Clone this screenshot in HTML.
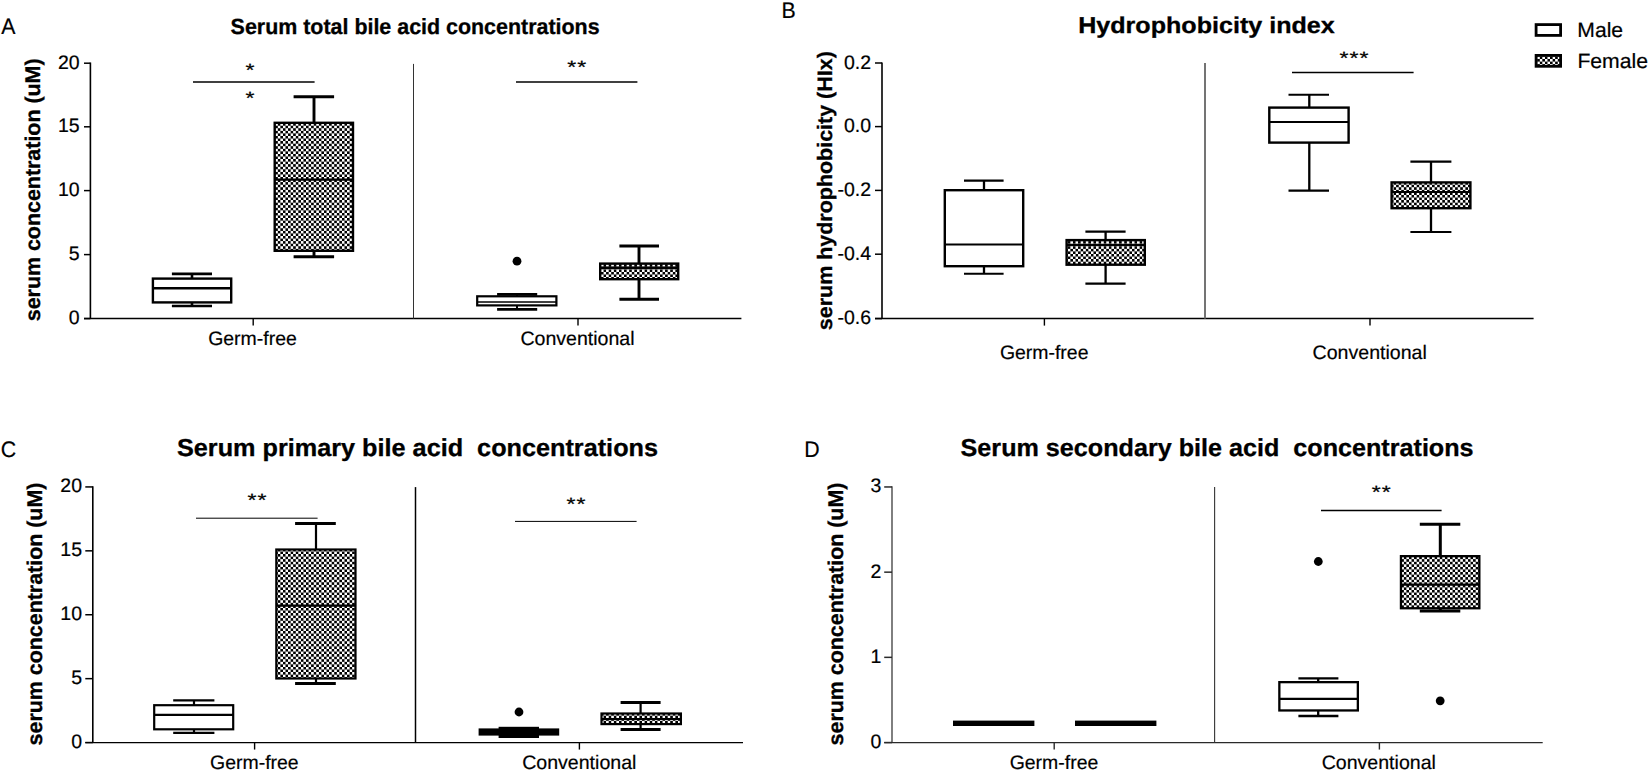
<!DOCTYPE html>
<html lang="en">
<head>
<meta charset="utf-8">
<title>Serum bile acid concentrations</title>
<style>
html,body{margin:0;padding:0;background:#fff;}
body{width:1650px;height:772px;overflow:hidden;}
svg{display:block;font-family:'Liberation Sans', sans-serif;fill:#000;text-rendering:geometricPrecision;}
</style>
</head>
<body>
<svg width="1650" height="772" viewBox="0 0 1650 772">
<defs>
<pattern id="chk" x="275.235" y="551.500" width="5.13" height="5.13" patternUnits="userSpaceOnUse">
<rect x="0" y="0" width="5.13" height="5.13" fill="#fff"/>
<rect x="0" y="0" width="2.565" height="2.565" fill="#000"/>
<rect x="2.565" y="2.565" width="2.565" height="2.565" fill="#000"/>
</pattern>
</defs>
<rect width="1650" height="772" fill="#fff"/>
<text transform="translate(1.3 33.7) scale(0.95 1)" x="0" y="0" font-size="22.4" stroke="#000" stroke-width="0.2">A</text>
<text x="230.6" y="34" font-size="22.0" font-weight="bold" textLength="369" lengthAdjust="spacingAndGlyphs" stroke="#000" stroke-width="0.3">Serum total bile acid concentrations</text>
<path d="M90.4 62.6L90.4 318.6" stroke="#000" stroke-width="1.6" fill="none"/>
<path d="M84 318.6L741.4 318.6" stroke="#000" stroke-width="1.5" fill="none"/>
<path d="M84 63.2L90.4 63.2" stroke="#000" stroke-width="1.5" fill="none"/>
<text x="79.6" y="68.7" font-size="19.5" text-anchor="end" stroke="#000" stroke-width="0.2">20</text>
<path d="M84 126.8L90.4 126.8" stroke="#000" stroke-width="1.5" fill="none"/>
<text x="79.6" y="132.3" font-size="19.5" text-anchor="end" stroke="#000" stroke-width="0.2">15</text>
<path d="M84 190.6L90.4 190.6" stroke="#000" stroke-width="1.5" fill="none"/>
<text x="79.6" y="196.1" font-size="19.5" text-anchor="end" stroke="#000" stroke-width="0.2">10</text>
<path d="M84 254.6L90.4 254.6" stroke="#000" stroke-width="1.5" fill="none"/>
<text x="79.6" y="260.1" font-size="19.5" text-anchor="end" stroke="#000" stroke-width="0.2">5</text>
<path d="M84 318.6L90.4 318.6" stroke="#000" stroke-width="1.5" fill="none"/>
<text x="79.6" y="324.1" font-size="19.5" text-anchor="end" stroke="#000" stroke-width="0.2">0</text>
<path d="M253.2 318.6L253.2 325.6" stroke="#000" stroke-width="1.4" fill="none"/>
<path d="M578 318.6L578 325.6" stroke="#000" stroke-width="1.4" fill="none"/>
<text x="40.4" y="321.2" font-size="21.3" font-weight="bold" textLength="262.8" lengthAdjust="spacingAndGlyphs" transform="rotate(-90 40.4 321.2)" stroke="#000" stroke-width="0.3">serum concentration (uM)</text>
<path d="M413.5 63.9L413.5 318.6" stroke="#333" stroke-width="1.0" fill="none"/>
<path d="M193 82L314.6 82" stroke="#000" stroke-width="1.5" fill="none"/>
<text transform="translate(250.4 75.86) scale(1 0.77)" x="0" y="0" font-size="23" text-anchor="middle" letter-spacing="1.05" stroke="#000" stroke-width="0.3">*</text>
<text transform="translate(250.4 104.2) scale(1 0.77)" x="0" y="0" font-size="23" text-anchor="middle" letter-spacing="1.05" stroke="#000" stroke-width="0.3">*</text>
<path d="M516 82L637.4 82" stroke="#000" stroke-width="1.5" fill="none"/>
<text transform="translate(577.3 73.16) scale(1 0.77)" x="0" y="0" font-size="23" text-anchor="middle" letter-spacing="1.05" stroke="#000" stroke-width="0.3">**</text>
<path d="M171.9 273.8H212M171.9 306H212" stroke="#000" stroke-width="2.7" fill="none"/>
<path d="M192 273.8V278.60M192 302.40V306" stroke="#000" stroke-width="2.6" fill="none"/>
<rect x="152.90" y="278.60" width="78.30" height="23.80" fill="#fff" stroke="#000" stroke-width="2.4"/>
<path d="M152.90 288.2H231.20" stroke="#000" stroke-width="2.4" fill="none"/>
<path d="M293.6 96.8H334.1M293.6 256.8H334.1" stroke="#000" stroke-width="2.9" fill="none"/>
<path d="M314.0 96.8V122.80M314.0 250.80V256.8" stroke="#000" stroke-width="2.9" fill="none"/>
<rect x="274.70" y="122.80" width="78.30" height="128.00" fill="url(#chk)" stroke="#000" stroke-width="2.4"/>
<path d="M274.70 179.6H353.00" stroke="#000" stroke-width="2.4" fill="none"/>
<path d="M497.1 294.4H537.2M497.1 309.3H537.2" stroke="#000" stroke-width="2.8" fill="none"/>
<path d="M517 294.4V296.30M517 305.40V309.3" stroke="#000" stroke-width="2.0" fill="none"/>
<rect x="477.20" y="296.30" width="79.20" height="9.10" fill="#fff" stroke="#000" stroke-width="2.2"/>
<path d="M477.20 302.05H556.40" stroke="#000" stroke-width="1.6" fill="none"/>
<circle cx="517" cy="261.2" r="4.4" fill="#000"/>
<path d="M619.4 246H659M619.4 299.2H659" stroke="#000" stroke-width="2.9" fill="none"/>
<path d="M639 246V263.60M639 279.20V299.2" stroke="#000" stroke-width="2.9" fill="none"/>
<rect x="600.20" y="263.60" width="78.00" height="15.60" fill="url(#chk)" stroke="#000" stroke-width="2.4"/>
<path d="M600.20 267.8H678.20" stroke="#000" stroke-width="2.4" fill="none"/>
<text x="252.5" y="345.2" font-size="19.5" text-anchor="middle" textLength="88.6" lengthAdjust="spacingAndGlyphs" stroke="#000" stroke-width="0.2">Germ-free</text>
<text x="577.5" y="345.2" font-size="19.5" text-anchor="middle" textLength="114.2" lengthAdjust="spacingAndGlyphs" stroke="#000" stroke-width="0.2">Conventional</text>
<text transform="translate(781.4 17.5) scale(0.95 1)" x="0" y="0" font-size="22.4" stroke="#000" stroke-width="0.2">B</text>
<text x="1078.2" y="32.5" font-size="22.9" font-weight="bold" textLength="256.6" lengthAdjust="spacingAndGlyphs" stroke="#000" stroke-width="0.3">Hydrophobicity index</text>
<path d="M882 62.4L882 318.6" stroke="#000" stroke-width="1.6" fill="none"/>
<path d="M875 318.6L1533.6 318.6" stroke="#000" stroke-width="1.5" fill="none"/>
<path d="M875 63L882 63" stroke="#000" stroke-width="1.5" fill="none"/>
<text x="871" y="68.5" font-size="19.5" text-anchor="end" stroke="#000" stroke-width="0.2">0.2</text>
<path d="M875 126.6L882 126.6" stroke="#000" stroke-width="1.5" fill="none"/>
<text x="871" y="132.1" font-size="19.5" text-anchor="end" stroke="#000" stroke-width="0.2">0.0</text>
<path d="M875 190.4L882 190.4" stroke="#000" stroke-width="1.5" fill="none"/>
<text x="871" y="195.9" font-size="19.5" text-anchor="end" stroke="#000" stroke-width="0.2">-0.2</text>
<path d="M875 254.2L882 254.2" stroke="#000" stroke-width="1.5" fill="none"/>
<text x="871" y="259.7" font-size="19.5" text-anchor="end" stroke="#000" stroke-width="0.2">-0.4</text>
<path d="M875 318.6L882 318.6" stroke="#000" stroke-width="1.5" fill="none"/>
<text x="871" y="324.1" font-size="19.5" text-anchor="end" stroke="#000" stroke-width="0.2">-0.6</text>
<path d="M1044.4 318.6L1044.4 325.6" stroke="#000" stroke-width="1.4" fill="none"/>
<path d="M1370 318.6L1370 325.6" stroke="#000" stroke-width="1.4" fill="none"/>
<text x="832" y="330.2" font-size="20.9" font-weight="bold" textLength="279" lengthAdjust="spacingAndGlyphs" transform="rotate(-90 832 330.2)" stroke="#000" stroke-width="0.3">serum hydrophobicity (HIx)</text>
<path d="M1205 63L1205 318.6" stroke="#747474" stroke-width="2.0" fill="none"/>
<path d="M1292 72.4L1413.6 72.4" stroke="#000" stroke-width="1.5" fill="none"/>
<text transform="translate(1354.5 63.9) scale(1 0.77)" x="0" y="0" font-size="23" text-anchor="middle" letter-spacing="1.05" stroke="#000" stroke-width="0.3">***</text>
<path d="M964 180.6H1003.6M964 273.8H1003.6" stroke="#000" stroke-width="2.1" fill="none"/>
<path d="M984 180.6V190.20M984 266.20V273.8" stroke="#000" stroke-width="2.3" fill="none"/>
<rect x="944.80" y="190.20" width="78.40" height="76.00" fill="#fff" stroke="#000" stroke-width="2.4"/>
<path d="M944.80 244.6H1023.20" stroke="#000" stroke-width="2.0" fill="none"/>
<path d="M1085.4 231.6H1125.6M1085.4 283.6H1125.6" stroke="#000" stroke-width="2.1" fill="none"/>
<path d="M1105.6 231.6V240.10M1105.6 264.70V283.6" stroke="#000" stroke-width="2.3" fill="none"/>
<rect x="1066.60" y="240.10" width="78.20" height="24.60" fill="url(#chk)" stroke="#000" stroke-width="2.4"/>
<path d="M1066.60 245.1H1144.80" stroke="#000" stroke-width="2.0" fill="none"/>
<path d="M1288.5 94.7H1329M1288.5 190.6H1329" stroke="#000" stroke-width="2.1" fill="none"/>
<path d="M1309.3 94.7V107.60M1309.3 142.60V190.6" stroke="#000" stroke-width="2.3" fill="none"/>
<rect x="1269.30" y="107.60" width="79.30" height="35.00" fill="#fff" stroke="#000" stroke-width="2.4"/>
<path d="M1269.30 122.0H1348.60" stroke="#000" stroke-width="2.0" fill="none"/>
<path d="M1410.4 161.6H1451.4M1410.4 232H1451.4" stroke="#000" stroke-width="2.1" fill="none"/>
<path d="M1431 161.6V182.40M1431 208.20V232" stroke="#000" stroke-width="2.3" fill="none"/>
<rect x="1391.60" y="182.40" width="78.80" height="25.80" fill="url(#chk)" stroke="#000" stroke-width="2.4"/>
<path d="M1391.60 192H1470.40" stroke="#000" stroke-width="2.0" fill="none"/>
<text x="1044.2" y="359.2" font-size="19.5" text-anchor="middle" textLength="88.6" lengthAdjust="spacingAndGlyphs" stroke="#000" stroke-width="0.2">Germ-free</text>
<text x="1369.7" y="359.2" font-size="19.5" text-anchor="middle" textLength="114.2" lengthAdjust="spacingAndGlyphs" stroke="#000" stroke-width="0.2">Conventional</text>
<rect x="1536.1000000000001" y="24.599999999999998" width="24.5" height="10.8" fill="#fff" stroke="#000" stroke-width="2.8"/>
<rect x="1536.1000000000001" y="55.4" width="24.5" height="10.899999999999999" fill="url(#chk)" stroke="#000" stroke-width="2.8"/>
<text x="1577.3" y="36.8" font-size="20.6" textLength="45.8" lengthAdjust="spacingAndGlyphs" stroke="#000" stroke-width="0.2">Male</text>
<text x="1577.4" y="67.5" font-size="20.6" textLength="70.6" lengthAdjust="spacingAndGlyphs" stroke="#000" stroke-width="0.2">Female</text>
<text transform="translate(0.7 456.95) scale(0.95 1)" x="0" y="0" font-size="22.4" stroke="#000" stroke-width="0.2">C</text>
<text x="177" y="456" font-size="24.5" font-weight="bold" textLength="481" lengthAdjust="spacingAndGlyphs" stroke="#000" stroke-width="0.3">Serum primary bile acid  concentrations</text>
<path d="M92.8 486.29999999999995L92.8 742.55" stroke="#000" stroke-width="1.6" fill="none"/>
<path d="M85.3 742.55L743 742.55" stroke="#000" stroke-width="1.2" fill="none"/>
<path d="M85.3 486.93L92.8 486.93" stroke="#000" stroke-width="1.5" fill="none"/>
<text x="82" y="492.43" font-size="19.5" text-anchor="end" stroke="#000" stroke-width="0.2">20</text>
<path d="M85.3 550.84L92.8 550.84" stroke="#000" stroke-width="1.5" fill="none"/>
<text x="82" y="556.34" font-size="19.5" text-anchor="end" stroke="#000" stroke-width="0.2">15</text>
<path d="M85.3 614.74L92.8 614.74" stroke="#000" stroke-width="1.5" fill="none"/>
<text x="82" y="620.24" font-size="19.5" text-anchor="end" stroke="#000" stroke-width="0.2">10</text>
<path d="M85.3 678.65L92.8 678.65" stroke="#000" stroke-width="1.5" fill="none"/>
<text x="82" y="684.15" font-size="19.5" text-anchor="end" stroke="#000" stroke-width="0.2">5</text>
<path d="M85.3 742.55L92.8 742.55" stroke="#000" stroke-width="1.5" fill="none"/>
<text x="82" y="748.05" font-size="19.5" text-anchor="end" stroke="#000" stroke-width="0.2">0</text>
<path d="M254.6 742.55L254.6 749.55" stroke="#000" stroke-width="1.4" fill="none"/>
<path d="M579.4 742.55L579.4 749.55" stroke="#000" stroke-width="1.4" fill="none"/>
<text x="42.4" y="745.4" font-size="21.3" font-weight="bold" textLength="262.8" lengthAdjust="spacingAndGlyphs" transform="rotate(-90 42.4 745.4)" stroke="#000" stroke-width="0.3">serum concentration (uM)</text>
<path d="M415.5 487.1L415.5 742.5" stroke="#000" stroke-width="1.5" fill="none"/>
<path d="M196 518.2L317.6 518.2" stroke="#000" stroke-width="1.0" fill="none"/>
<text transform="translate(257.4 505.95) scale(1 0.77)" x="0" y="0" font-size="23" text-anchor="middle" letter-spacing="1.05" stroke="#000" stroke-width="0.3">**</text>
<path d="M515 521.4L636.6 521.4" stroke="#000" stroke-width="1.0" fill="none"/>
<text transform="translate(576.5 509.95) scale(1 0.77)" x="0" y="0" font-size="23" text-anchor="middle" letter-spacing="1.05" stroke="#000" stroke-width="0.3">**</text>
<path d="M173.2 700.4H214.4M173.2 732.8H214.4" stroke="#000" stroke-width="2.3" fill="none"/>
<path d="M194 700.4V705.20M194 729.30V732.8" stroke="#000" stroke-width="2.2" fill="none"/>
<rect x="154.20" y="705.20" width="79.00" height="24.10" fill="#fff" stroke="#000" stroke-width="2.2"/>
<path d="M154.20 714.9H233.20" stroke="#000" stroke-width="2.1" fill="none"/>
<path d="M295.1 523.4H335.8M295.1 683.4H335.8" stroke="#000" stroke-width="3.0" fill="none"/>
<path d="M316 523.4V549.50M316 678.50V683.4" stroke="#000" stroke-width="2.2" fill="none"/>
<rect x="276.30" y="549.50" width="79.20" height="129.00" fill="url(#chk)" stroke="#000" stroke-width="2.2"/>
<path d="M276.30 605.6H355.50" stroke="#000" stroke-width="2.1" fill="none"/>
<rect x="478.6" y="728.4" width="80.6" height="7.2" fill="#000"/>
<rect x="498.6" y="726.8" width="40.4" height="11.2" fill="#000"/>
<circle cx="519" cy="712" r="4.4" fill="#000"/>
<path d="M620.6 702.4H660.6M620.6 729.6H660.6" stroke="#000" stroke-width="3.0" fill="none"/>
<path d="M640.6 702.4V713.50M640.6 724.10V729.6" stroke="#000" stroke-width="2.2" fill="none"/>
<rect x="601.50" y="713.50" width="79.40" height="10.60" fill="url(#chk)" stroke="#000" stroke-width="2.2"/>
<path d="M601.50 719H680.90" stroke="#000" stroke-width="2.1" fill="none"/>
<text x="254.4" y="768.6" font-size="19.5" text-anchor="middle" textLength="88.6" lengthAdjust="spacingAndGlyphs" stroke="#000" stroke-width="0.2">Germ-free</text>
<text x="579.3" y="768.6" font-size="19.5" text-anchor="middle" textLength="114.2" lengthAdjust="spacingAndGlyphs" stroke="#000" stroke-width="0.2">Conventional</text>
<text transform="translate(804.2 456.95) scale(0.95 1)" x="0" y="0" font-size="22.4" stroke="#000" stroke-width="0.2">D</text>
<text x="960.6" y="456" font-size="24.5" font-weight="bold" textLength="513" lengthAdjust="spacingAndGlyphs" stroke="#000" stroke-width="0.3">Serum secondary bile acid  concentrations</text>
<path d="M892.0 486.35999999999996L892.0 742.55" stroke="#2a2a2a" stroke-width="1.2" fill="none"/>
<path d="M884.2 742.55L1542.7 742.55" stroke="#2a2a2a" stroke-width="1.2" fill="none"/>
<path d="M884.2 486.96L892.0 486.96" stroke="#2a2a2a" stroke-width="1.5" fill="none"/>
<text x="881.4" y="492.46" font-size="19.5" text-anchor="end" stroke="#000" stroke-width="0.2">3</text>
<path d="M884.2 572.16L892.0 572.16" stroke="#2a2a2a" stroke-width="1.5" fill="none"/>
<text x="881.4" y="577.66" font-size="19.5" text-anchor="end" stroke="#000" stroke-width="0.2">2</text>
<path d="M884.2 657.35L892.0 657.35" stroke="#2a2a2a" stroke-width="1.5" fill="none"/>
<text x="881.4" y="662.85" font-size="19.5" text-anchor="end" stroke="#000" stroke-width="0.2">1</text>
<path d="M884.2 742.55L892.0 742.55" stroke="#2a2a2a" stroke-width="1.5" fill="none"/>
<text x="881.4" y="748.05" font-size="19.5" text-anchor="end" stroke="#000" stroke-width="0.2">0</text>
<path d="M1054.2 742.55L1054.2 749.55" stroke="#2a2a2a" stroke-width="1.4" fill="none"/>
<path d="M1379.4 742.55L1379.4 749.55" stroke="#2a2a2a" stroke-width="1.4" fill="none"/>
<text x="843.4" y="745.4" font-size="21.3" font-weight="bold" textLength="262.8" lengthAdjust="spacingAndGlyphs" transform="rotate(-90 843.4 745.4)" stroke="#000" stroke-width="0.3">serum concentration (uM)</text>
<path d="M1214.6 487.1L1214.6 742.5" stroke="#3a3a3a" stroke-width="1.15" fill="none"/>
<path d="M1321 510.5L1441.6 510.5" stroke="#000" stroke-width="1.5" fill="none"/>
<text transform="translate(1381.75 498.13) scale(1 0.77)" x="0" y="0" font-size="23" text-anchor="middle" letter-spacing="1.05" stroke="#000" stroke-width="0.3">**</text>
<rect x="953" y="720.6" width="81.4" height="5.4" fill="#000"/>
<rect x="1075" y="720.6" width="81.4" height="5.4" fill="#000"/>
<path d="M1298.4 678.4H1338.4M1298.4 716H1338.4" stroke="#000" stroke-width="2.4" fill="none"/>
<path d="M1318.2 678.4V682.15M1318.2 710.45V716" stroke="#000" stroke-width="2.3" fill="none"/>
<rect x="1279.35" y="682.15" width="78.50" height="28.30" fill="#fff" stroke="#000" stroke-width="2.3"/>
<path d="M1279.35 698.8H1357.85" stroke="#000" stroke-width="2.2" fill="none"/>
<circle cx="1318.3" cy="561.5" r="4.4" fill="#000"/>
<path d="M1419.8 524.3H1460.3M1419.8 611H1460.3" stroke="#000" stroke-width="3.0" fill="none"/>
<path d="M1440.3 524.3V556.15M1440.3 608.25V611" stroke="#000" stroke-width="3.0" fill="none"/>
<rect x="1400.95" y="556.15" width="78.40" height="52.10" fill="url(#chk)" stroke="#000" stroke-width="2.3"/>
<path d="M1400.95 584.6H1479.35" stroke="#000" stroke-width="2.2" fill="none"/>
<circle cx="1440.2" cy="700.8" r="4.4" fill="#000"/>
<text x="1054" y="768.6" font-size="19.5" text-anchor="middle" textLength="88.6" lengthAdjust="spacingAndGlyphs" stroke="#000" stroke-width="0.2">Germ-free</text>
<text x="1378.8" y="768.6" font-size="19.5" text-anchor="middle" textLength="114.2" lengthAdjust="spacingAndGlyphs" stroke="#000" stroke-width="0.2">Conventional</text>
</svg>
</body>
</html>
